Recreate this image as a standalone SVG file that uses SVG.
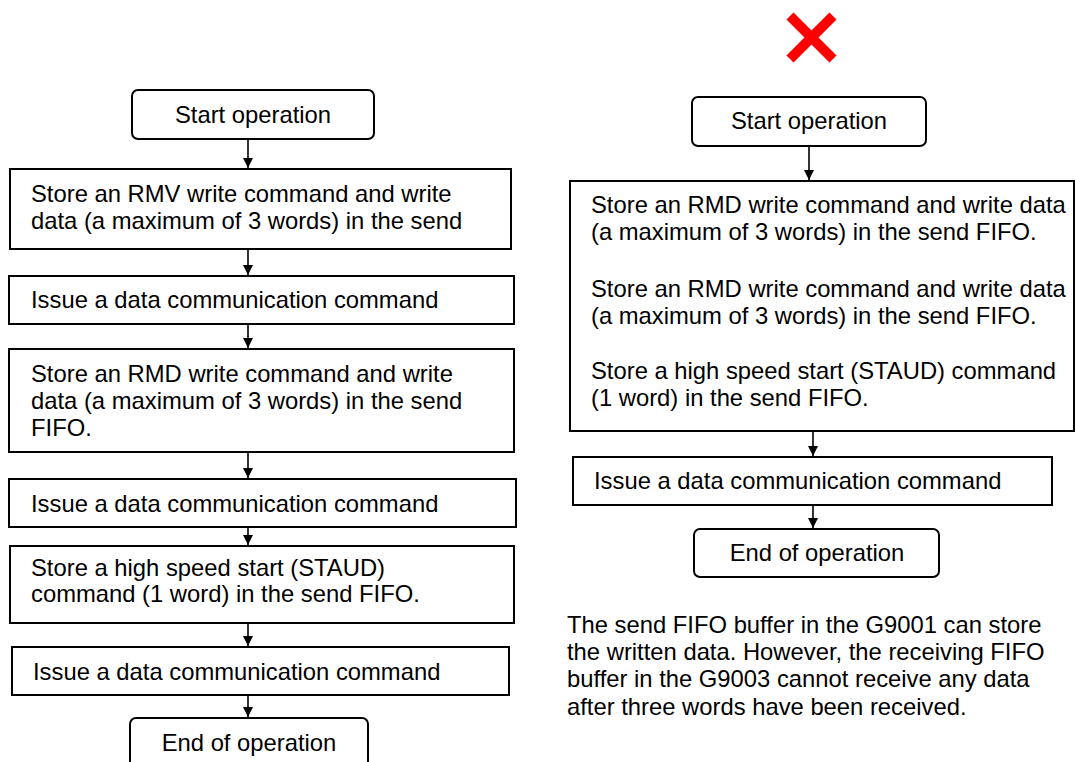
<svg xmlns="http://www.w3.org/2000/svg" width="1075" height="762" viewBox="0 0 1075 762">
  <style>
    .box { fill: #fff; stroke: #000; stroke-width: 2; }
    .lbl { font-family: "Liberation Sans", Arial, sans-serif; font-size: 23.8px; fill: #000; }
    .mid { text-anchor: middle; }
    .conn { stroke: #000; stroke-width: 1.6; fill: none; marker-end: url(#arrow); }
    .cross { stroke: #ff0000; stroke-width: 10; stroke-linecap: butt; }
  </style>
  <defs>
    <marker id="arrow" markerUnits="userSpaceOnUse" markerWidth="10" markerHeight="11" refX="10" refY="5" orient="auto">
      <path d="M0,0 L10,5 L0,10 Z" fill="#000"/>
    </marker>
  </defs>
  <rect width="1075" height="762" fill="#fff"/>

  <!-- Left flow -->
  <g id="l-start">
    <rect class="box" x="132" y="90" width="242" height="49" rx="6"/>
    <text class="lbl mid" x="253" y="123">Start operation</text>
  </g>
  <g id="l-store-rmv">
    <rect class="box" x="10" y="169" width="501" height="80"/>
    <text class="lbl" x="31" y="202">Store an RMV write command and write</text>
    <text class="lbl" x="31" y="229">data (a maximum of 3 words) in the send</text>
  </g>
  <g id="l-issue-1">
    <rect class="box" x="9" y="276" width="505" height="48"/>
    <text class="lbl" x="31" y="308">Issue a data communication command</text>
  </g>
  <g id="l-store-rmd">
    <rect class="box" x="9" y="349" width="505" height="103"/>
    <text class="lbl" x="31" y="382">Store an RMD write command and write</text>
    <text class="lbl" x="31" y="409">data (a maximum of 3 words) in the send</text>
    <text class="lbl" x="31" y="436">FIFO.</text>
  </g>
  <g id="l-issue-2">
    <rect class="box" x="9" y="479" width="507" height="48"/>
    <text class="lbl" x="31" y="512">Issue a data communication command</text>
  </g>
  <g id="l-store-staud">
    <rect class="box" x="10" y="546" width="504" height="77"/>
    <text class="lbl" x="31" y="576">Store a high speed start (STAUD)</text>
    <text class="lbl" x="31" y="602">command (1 word) in the send FIFO.</text>
  </g>
  <g id="l-issue-3">
    <rect class="box" x="12" y="647" width="497" height="48"/>
    <text class="lbl" x="33" y="680">Issue a data communication command</text>
  </g>
  <g id="l-end">
    <rect class="box" x="130" y="718" width="238" height="60" rx="6"/>
    <text class="lbl mid" x="249" y="751">End of operation</text>
  </g>

  <!-- Right flow -->
  <g id="mark-ng">
    <line class="cross" x1="790" y1="16" x2="833" y2="59"/>
    <line class="cross" x1="833" y1="16" x2="790" y2="59"/>
  </g>
  <g id="r-start">
    <rect class="box" x="692" y="97" width="234" height="49" rx="6"/>
    <text class="lbl mid" x="809" y="129">Start operation</text>
  </g>
  <g id="r-store-all">
    <rect class="box" x="570" y="181" width="504" height="250"/>
    <text class="lbl" x="591" y="213">Store an RMD write command and write data</text>
    <text class="lbl" x="591" y="240">(a maximum of 3 words) in the send FIFO.</text>
    <text class="lbl" x="591" y="297">Store an RMD write command and write data</text>
    <text class="lbl" x="591" y="324">(a maximum of 3 words) in the send FIFO.</text>
    <text class="lbl" x="591" y="379">Store a high speed start (STAUD) command</text>
    <text class="lbl" x="591" y="406">(1 word) in the send FIFO.</text>
  </g>
  <g id="r-issue">
    <rect class="box" x="573" y="457" width="479" height="48"/>
    <text class="lbl" x="594" y="489">Issue a data communication command</text>
  </g>
  <g id="r-end">
    <rect class="box" x="694" y="529" width="245" height="48" rx="6"/>
    <text class="lbl mid" x="817" y="561">End of operation</text>
  </g>
  <g id="r-note">
    <text class="lbl" x="567" y="633">The send FIFO buffer in the G9001 can store</text>
    <text class="lbl" x="567" y="660">the written data. However, the receiving FIFO</text>
    <text class="lbl" x="567" y="687">buffer in the G9003 cannot receive any data</text>
    <text class="lbl" x="567" y="715">after three words have been received.</text>
  </g>

  <!-- Connectors -->
  <g id="connectors">
    <line class="conn" x1="248" y1="139" x2="248" y2="168"/>
    <line class="conn" x1="248" y1="249" x2="248" y2="275"/>
    <line class="conn" x1="248" y1="324" x2="248" y2="348"/>
    <line class="conn" x1="248" y1="452" x2="248" y2="478"/>
    <line class="conn" x1="248" y1="527" x2="248" y2="545"/>
    <line class="conn" x1="248" y1="623" x2="248" y2="646"/>
    <line class="conn" x1="248" y1="695" x2="248" y2="717"/>
    <line class="conn" x1="809" y1="146" x2="809" y2="180"/>
    <line class="conn" x1="813" y1="431" x2="813" y2="456"/>
    <line class="conn" x1="813" y1="505" x2="813" y2="528"/>
  </g>
</svg>
